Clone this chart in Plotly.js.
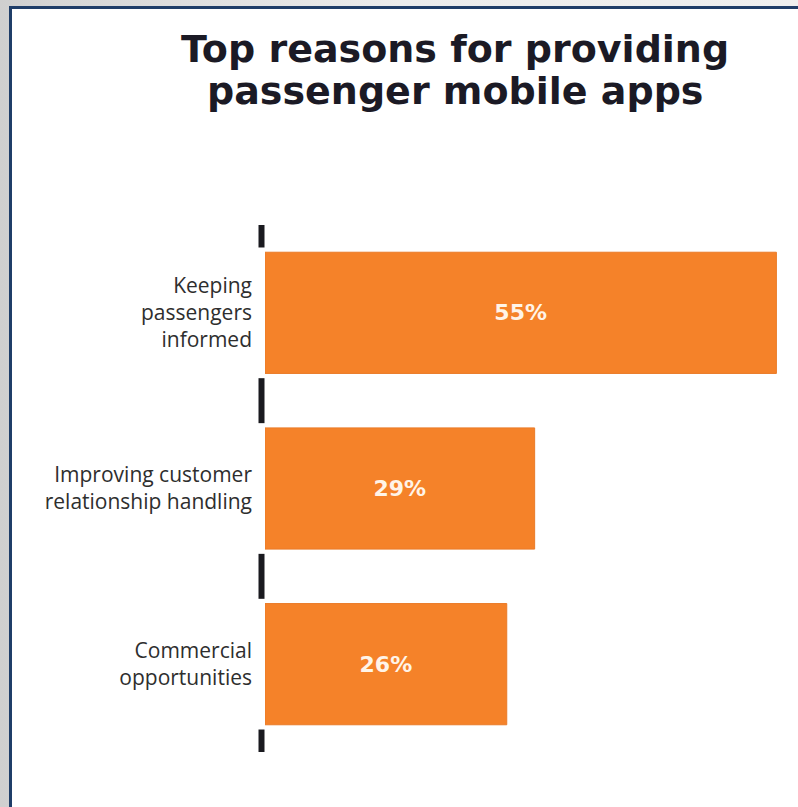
<!DOCTYPE html>
<html>
<head>
<meta charset="utf-8">
<script src="https://cdn.plot.ly/plotly-3.0.1.min.js"></script>
<style>
  html, body { margin: 0; padding: 0; width: 798px; height: 807px; overflow: hidden;
    background: linear-gradient(90deg, #cfcfcf 0px, #d6d6d6 60px, #ececec 400px, #efefef 798px); }
  #panel { position: absolute; left: 9px; top: 6px; width: 800px; height: 820px;
    background: #ffffff; border-left: 3px solid #1f3d68; border-top: 3px solid #1f3d68; }
  #chart { position: absolute; left: 0; top: 0; width: 798px; height: 807px; }
</style>
</head>
<body>
<div id="panel"></div>
<div id="chart"></div>
<script>
// Data
var categories = ["Keeping<br>passengers<br>informed",
                  "Improving customer<br>relationship handling",
                  "Commercial<br>opportunities"];
var values = [55, 29, 26];
var titleLines = ["Top reasons for providing", "passenger mobile apps"];

var trace = {
  type: "bar",
  orientation: "h",
  y: categories,
  x: values,
  marker: { color: "#f58229", line: { color: "#ea7b28", width: 1 } },
  width: 0.69,
  text: values.map(function (v) { return v + "%"; }),
  textposition: "inside",
  insidetextanchor: "middle",
  textangle: 0,
  textfont: { family: "DejaVu Sans", size: 22, color: "#fff4e8", weight: "bold" },
  hoverinfo: "none",
  cliponaxis: false
};

// dashed axis segments centred on category boundaries
var shapes = [];
var half = 0.128;
for (var i = 0; i <= categories.length; i++) {
  var b = i - 0.5;
  var y0 = Math.max(-0.5, b - half);
  var y1 = Math.min(categories.length - 0.5, b + half);
  shapes.push({
    type: "line", xref: "paper", yref: "y",
    x0: -0.0066, x1: -0.0066, y0: y0, y1: y1,
    line: { color: "#1a1a1f", width: 6 }
  });
}

// title as two annotation lines (tighter line spacing than a <br> title)
var titleY = [1.334, 1.2545];
var annotations = titleLines.map(function (t, k) {
  return {
    text: t, xref: "paper", yref: "paper",
    x: 0.358, y: titleY[k], xanchor: "center", yanchor: "middle",
    showarrow: false,
    font: { family: "DejaVu Sans", size: 38, color: "#1b1a25", weight: "bold" }
  };
});

var layout = {
  width: 798, height: 807,
  margin: { l: 265, r: 3, t: 225, b: 55 },
  paper_bgcolor: "rgba(0,0,0,0)",
  plot_bgcolor: "rgba(0,0,0,0)",
  showlegend: false,
  xaxis: {
    range: [0, 57], showgrid: false, zeroline: false, showline: false,
    showticklabels: false, ticks: "", fixedrange: true
  },
  yaxis: {
    type: "category",
    range: [2.5, -0.5],
    showgrid: false, zeroline: false, showline: false, ticks: "",
    ticklabelstandoff: 12,
    tickfont: { family: "Open Sans", size: 21, color: "#2e2e2e" },
    fixedrange: true
  },
  shapes: shapes,
  annotations: annotations
};

Plotly.newPlot("chart", [trace], layout, { displayModeBar: false, staticPlot: true });
</script>
</body>
</html>
